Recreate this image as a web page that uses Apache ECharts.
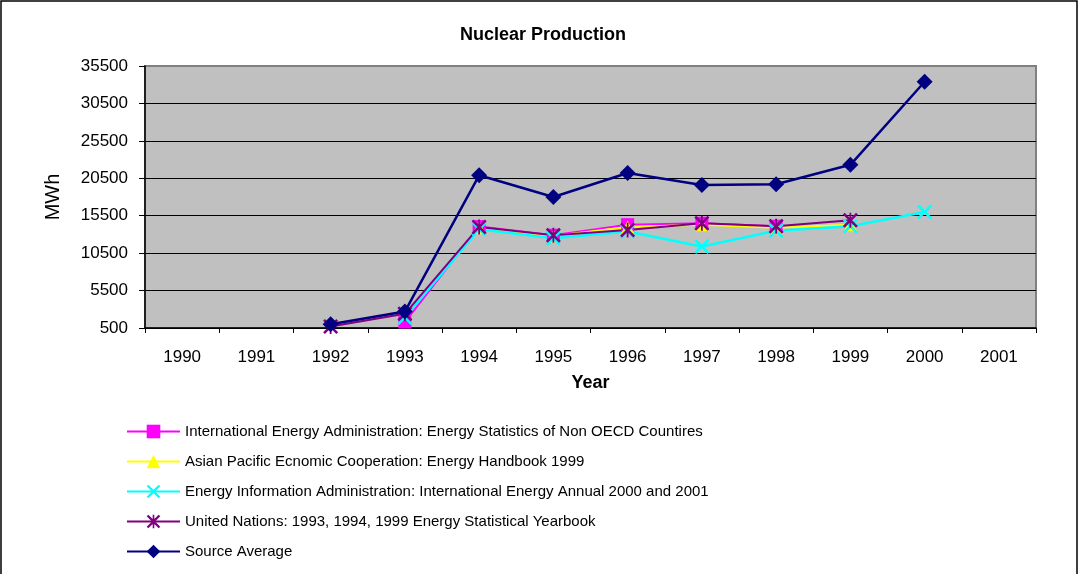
<!DOCTYPE html>
<html>
<head>
<meta charset="utf-8">
<title>Nuclear Production</title>
<script src="https://cdn.jsdelivr.net/npm/echarts@6/dist/echarts.min.js"></script>
<style>
  html, body { margin: 0; padding: 0; background: #fff; }
  #chart { width: 1080px; height: 574px; }
</style>
</head>
<body>
<div id="chart"></div>
<script>
// data (MWh), null = no value that year
const years = ["1990", "1991", "1992", "1993", "1994", "1995", "1996", "1997", "1998", "1999", "2000", "2001"];
const yTicks = [500, 5500, 10500, 15500, 20500, 25500, 30500, 35500];

const seriesNames = [
  "International Energy Administration: Energy Statistics of Non OECD Countires",
  "Asian Pacific Ecnomic Cooperation: Energy Handbook 1999",
  "Energy Information Administration: International Energy Annual 2000 and 2001",
  "United Nations: 1993, 1994, 1999 Energy Statistical Yearbook",
  "Source Average"
];

const ieaValues = [null, null, null, 1300, 14050, 12900, 14300, 14500, 14100, null, null, null];
const apecValues = [null, null, null, null, 13900, 12800, 14000, 14300, 13900, 14300, null, null];
const eiaValues = [null, null, null, 1900, 13700, 12500, 13400, 11400, 13500, 14100, 16000, null];
const unValues = [null, null, 700, 2400, 14000, 12900, 13600, 14500, 14100, 14900, null, null];
const avgValues = [null, null, 1000, 2700, 20900, 18000, 21200, 19600, 19700, 22300, 33400, null];

const FONT = "'Liberation Sans', Arial, sans-serif";

// marker shapes (Excel style x and star)
const xMark = "path://M0,1.2 L1.2,0 L5,3.8 L8.8,0 L10,1.2 L6.2,5 L10,8.8 L8.8,10 L5,6.2 L1.2,10 L0,8.8 L3.8,5 Z";
const starMark = xMark + " M4.4,0 L5.6,0 L5.6,10 L4.4,10 Z";

function lineSeries(name, data, color, symbol, size, width) {
  return {
    name: name,
    type: "line",
    data: data,
    symbol: symbol,
    symbolSize: size,
    showAllSymbol: true,
    connectNulls: false,
    animation: false,
    lineStyle: { color: color, width: width },
    itemStyle: { color: color, borderWidth: 0 },
    emphasis: { disabled: true }
  };
}

const myChart = echarts.init(document.getElementById("chart"), null, { renderer: "canvas" });

// grid lines black, the top one is the grey plot border
const splitColors = yTicks.map((v, i) => (i === yTicks.length - 1 ? "#808080" : "#000"));

const option = {
  backgroundColor: "#fff",
  animation: false,
  textStyle: { fontFamily: FONT },
  title: {
    text: "Nuclear Production",
    left: 538,
    textAlign: "center",
    top: 21,
    textStyle: { fontFamily: FONT, fontSize: 18, fontWeight: "bold", color: "#000" }
  },
  graphic: [
    {
      type: "rect",
      shape: { x: 1, y: 1, width: 1076, height: 580 },
      style: { fill: "none", stroke: "#000", lineWidth: 1.5 },
      silent: true
    }
  ],
  legend: {
    orient: "vertical",
    left: 121,
    top: 419,
    itemWidth: 53,
    itemHeight: 17,
    itemGap: 15,
    data: seriesNames,
    textStyle: { fontFamily: FONT, fontSize: 15, color: "#000" }
  },
  grid: {
    left: 145,
    right: 44,
    top: 66,
    bottom: 246,
    show: true,
    backgroundColor: "#C0C0C0",
    borderColor: "#808080",
    borderWidth: 2
  },
  xAxis: {
    type: "category",
    data: years,
    boundaryGap: true,
    name: "Year",
    nameLocation: "middle",
    nameGap: 46,
    nameTextStyle: { fontFamily: FONT, fontSize: 18, fontWeight: "bold", color: "#000" },
    axisLine: { show: true, lineStyle: { color: "#000", width: 1.5 } },
    axisTick: { show: true, interval: 0, length: 5, lineStyle: { color: "#000" } },
    axisLabel: { interval: 0, margin: 21, fontFamily: FONT, fontSize: 17, color: "#000" },
    splitLine: { show: false }
  },
  yAxis: {
    type: "value",
    min: 500,
    max: 35500,
    name: "MWh",
    nameLocation: "middle",
    nameRotate: 90,
    nameGap: 82,
    nameTextStyle: { fontFamily: FONT, fontSize: 20, color: "#000" },
    axisLine: { show: true, lineStyle: { color: "#000", width: 1.5 } },
    axisTick: { show: true, length: 6, customValues: yTicks, lineStyle: { color: "#000" } },
    axisLabel: {
      margin: 17,
      customValues: yTicks,
      formatter: (v) => String(v),
      fontFamily: FONT,
      fontSize: 17,
      color: "#000"
    },
    splitLine: { show: true, lineStyle: { color: splitColors, width: 1.2 } }
  },
  series: [
    lineSeries(seriesNames[0], ieaValues, "#FF00FF", "rect", 13, 2),
    lineSeries(seriesNames[1], apecValues, "#FFFF00", "triangle", 13, 2),
    lineSeries(seriesNames[2], eiaValues, "#00FFFF", xMark, 15, 2.5),
    lineSeries(seriesNames[3], unValues, "#800080", starMark, 15, 2),
    lineSeries(seriesNames[4], avgValues, "#000080", "diamond", 16, 2.5)
  ]
};

myChart.setOption(option);
window.addEventListener("resize", () => {
  myChart.resize();
});
</script>
</body>
</html>
